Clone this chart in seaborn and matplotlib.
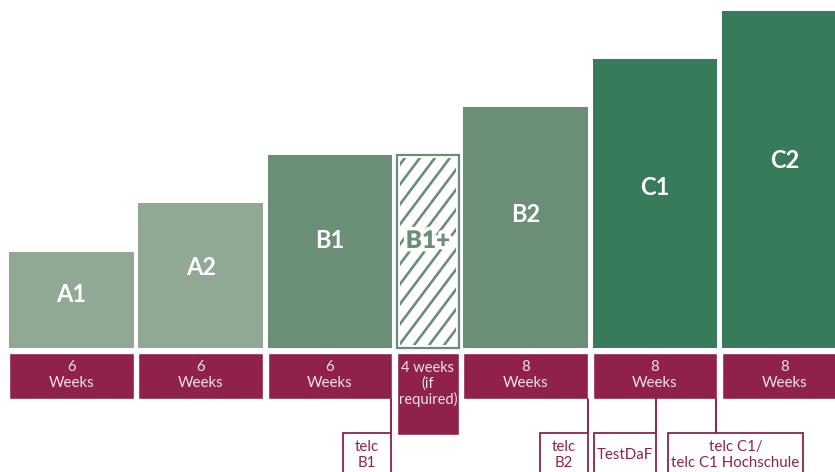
import numpy as np
import pandas as pd
import matplotlib
matplotlib.use("Agg")
import matplotlib.pyplot as plt
import matplotlib.patheffects as pe
from matplotlib.patches import Rectangle
import seaborn as sns

# data
levels = ["A1", "A2", "B1", "B1+", "B2", "C1", "C2"]
steps = [2, 3, 4, 4, 5, 6, 7]          # height of each level in "steps"
optional = [False, False, False, True, False, False, False]
weeks = [6, 6, 6, 4, 8, 8, 8]
exams = ["telc\nB1", "telc\nB2", "TestDaF", "telc C1/\ntelc C1 Hochschule"]
exam_level = ["B1", "B2", "C1", "C1"]

# layout (pixel-like units, axes fills the figure)
STEP = 48.2
UNIT = 129.3
GAP = 4.5
X0 = 9
slot = [0.514 if o else 1.0 for o in optional]
lefts = X0 + UNIT * np.concatenate([[0], np.cumsum(slot)[:-1]])
widths = UNIT * np.array(slot) - GAP
centers = lefts + widths / 2

# exam box layout: left, right, connector x
exam_box = [(343, 391, 391), (540, 588, 588), (594, 656, 656), (668, 803, 716)]

light = "#90a894"
mid = "#6b8f76"
dark = "#377b5b"
maroon = "#8f214b"
pale = "#f2e1e8"
colors = {"A1": light, "A2": light, "B1": mid, "B1+": mid,
          "B2": mid, "C1": dark, "C2": dark}

sns.set_theme(style="white")
plt.rcParams["font.family"] = ["Lato", "DejaVu Sans"]

fig = plt.figure(figsize=(8.35, 4.72), dpi=100)
ax = fig.add_axes([0, 0, 1, 1])

df = pd.DataFrame({"level": levels, "height": np.array(steps) * STEP,
                   "center": centers, "optional": optional})
solid = df[~df["optional"]]
sns.barplot(data=solid, x="center", y="height", hue="level",
            hue_order=list(solid["level"]), palette=colors,
            native_scale=True, dodge=False, legend=False,
            width=(UNIT - GAP) / UNIT, saturation=1, linewidth=0, ax=ax)

# optional level: outlined box with diagonal stripes
io = optional.index(True)
h_opt = steps[io] * STEP
ax.bar(centers[io], h_opt, width=widths[io], facecolor="white",
       edgecolor=mid, linewidth=1.6)
inset = 3
clip = Rectangle((lefts[io] + inset, inset), widths[io] - 2 * inset,
                 h_opt - 2 * inset, transform=ax.transData,
                 facecolor="none", edgecolor="none")
ax.add_patch(clip)
slope, spacing = 1.33, 15
xs = np.array([lefts[io] - 10, lefts[io] + widths[io] + 10])
for c in np.arange(lefts[io] - h_opt / slope - 20, lefts[io] + widths[io] + 20, spacing):
    ln, = ax.plot(xs, (xs - c) * slope, color=mid, lw=1.9, solid_capstyle="butt")
    ln.set_clip_path(clip)

# level labels
for i, lv in enumerate(levels):
    h = steps[i] * STEP
    if optional[i]:
        ax.text(centers[i], 0.555 * h, lv, ha="center", va="center",
                fontsize=17.5, fontweight="heavy", color=mid, zorder=5,
                path_effects=[pe.withStroke(linewidth=5, foreground="white")])
    else:
        ax.text(centers[i], 0.555 * h, lv, ha="center", va="center",
                fontsize=17, fontweight="bold", color="white", zorder=5)

# duration boxes
for i in range(len(levels)):
    if optional[i]:
        ax.bar(centers[i], 82, bottom=-87, width=widths[i], color=maroon)
        ax.text(centers[i], -36, f"{weeks[i]} weeks\n(if\nrequired)",
                ha="center", va="center", fontsize=10.5, color=pale,
                linespacing=1.12)
    else:
        ax.bar(centers[i], 46, bottom=-51, width=widths[i], color=maroon)
        ax.text(centers[i], -27, f"{weeks[i]}\nWeeks", ha="center",
                va="center", fontsize=10.8, color=pale, linespacing=1.12)

# exam boxes with connectors
for name, (l, r, cx) in zip(exams, exam_box):
    ax.plot([cx, cx], [-51, -85], color=maroon, lw=1.4)
    ax.bar((l + r) / 2, 60, bottom=-145, width=r - l, facecolor="white",
           edgecolor=maroon, linewidth=1.3)
    ax.text((l + r) / 2, -107, name, ha="center", va="center",
            fontsize=10.8, color=maroon, linespacing=1.1)

ax.set_xlim(0, 835)
ax.set_ylim(-124, 348)
ax.axis("off")

fig.savefig("out.png", dpi=100)
